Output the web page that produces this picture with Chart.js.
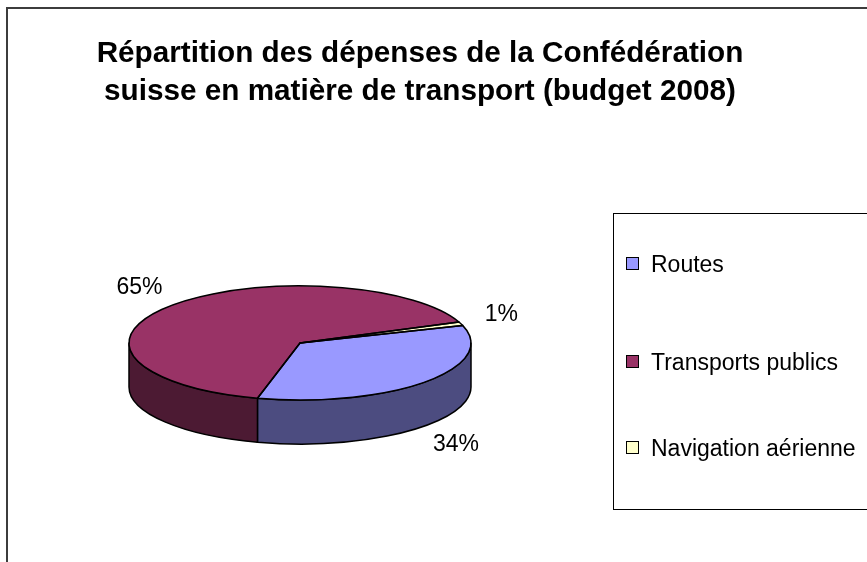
<!DOCTYPE html>
<html><head><meta charset="utf-8">
<script src="https://cdn.jsdelivr.net/npm/chart.js@4.4.0/dist/chart.umd.min.js"></script>
<style>
html,body{margin:0;padding:0;background:#fff;overflow:hidden;}
#wrap{position:relative;width:867px;height:562px;overflow:hidden;font-family:"Liberation Sans",Arial,sans-serif;color:#000;}
#frame{position:absolute;left:6px;top:7px;width:900px;height:600px;border:2px solid #3c3c3c;}
#title{position:absolute;left:0;top:33px;width:840px;text-align:center;font-weight:bold;font-size:29.7px;line-height:38px;}
#legend{position:absolute;left:613px;top:213px;width:300px;height:295px;border:1px solid #000;}
.item{position:absolute;left:12px;height:26px;line-height:26px;font-size:23px;white-space:nowrap;}
.sw{position:absolute;left:0;top:6px;width:11px;height:11px;border:1.5px solid #000;}
.lab{position:absolute;left:25px;top:0;}
canvas{position:absolute;left:0;top:0;}
</style></head>
<body>
<div id="wrap">
  <canvas id="c" width="867" height="562"></canvas>
  <div id="frame"></div>
  <div id="title">Répartition des dépenses de la Confédération<br>suisse en matière de transport (budget 2008)</div>
  <div id="legend"></div>
</div>
<script>
const categories = ['Routes', 'Transports publics', 'Navigation aérienne'];
const values = [34, 65, 1];
const topColors = ['#9999FF', '#993366', '#FFFFCC'];
const sideColors = ['#4C4C80', '#4C1A33', '#808066'];

const TILT = 57 / 171;
const DEPTH = 44;
const legendCenters = [50, 148, 234];

const pie3d = {
  id: 'pie3d',
  beforeDatasetsDraw(chart) {
    const ctx = chart.ctx;
    const arcs = chart.getDatasetMeta(0).data;
    const cx = arcs[0].x, cy = arcs[0].y, rx = arcs[0].outerRadius, ry = rx * TILT;
    ctx.save();
    ctx.lineWidth = 1.5;
    ctx.strokeStyle = '#000';
    ctx.lineJoin = 'round';
    arcs.forEach((a, i) => {
      for (let k = -1; k <= 1; k++) {
        const lo = Math.max(a.startAngle, 2 * Math.PI * k);
        const hi = Math.min(a.endAngle, 2 * Math.PI * k + Math.PI);
        if (hi > lo) {
          ctx.beginPath();
          ctx.moveTo(cx + rx * Math.cos(lo), cy + ry * Math.sin(lo));
          ctx.ellipse(cx, cy, rx, ry, 0, lo, hi, false);
          ctx.lineTo(cx + rx * Math.cos(hi), cy + DEPTH + ry * Math.sin(hi));
          ctx.ellipse(cx, cy + DEPTH, rx, ry, 0, hi, lo, true);
          ctx.closePath();
          ctx.fillStyle = sideColors[i];
          ctx.fill();
          ctx.stroke();
        }
      }
    });
    ctx.restore();
    ctx.save();
    ctx.translate(0, cy);
    ctx.scale(1, TILT);
    ctx.translate(0, -cy);
  },
  afterDatasetsDraw(chart) {
    const ctx = chart.ctx;
    ctx.restore();
    const arcs = chart.getDatasetMeta(0).data;
    const cx = arcs[0].x, cy = arcs[0].y, rx = arcs[0].outerRadius, ry = rx * TILT;
    ctx.save();
    ctx.lineWidth = 1.5;
    ctx.strokeStyle = '#000';
    ctx.lineJoin = 'round';
    arcs.forEach(a => {
      ctx.beginPath();
      ctx.moveTo(cx, cy);
      ctx.ellipse(cx, cy, rx, ry, 0, a.startAngle, a.endAngle, false);
      ctx.closePath();
      ctx.stroke();
    });
    const total = values.reduce((s, v) => s + v, 0);
    ctx.fillStyle = '#000';
    ctx.font = '23px "Liberation Sans", Arial, sans-serif';
    ctx.textAlign = 'center';
    ctx.textBaseline = 'middle';
    arcs.forEach((a, i) => {
      const mid = (a.startAngle + a.endAngle) / 2;
      const s = Math.sin(mid), c = Math.cos(mid);
      const x = cx + (rx + 43) * c;
      const y = cy + (ry + 27) * s + (s > 0 ? DEPTH : 0);
      ctx.fillText(Math.round(values[i] / total * 100) + '%', x, y);
    });
    ctx.restore();
  }
};

new Chart(document.getElementById('c'), {
  type: 'pie',
  data: {
    labels: categories,
    datasets: [{
      data: values,
      backgroundColor: topColors,
      borderWidth: 0,
      hoverBorderWidth: 0,
      hoverOffset: 0,
      clip: false
    }]
  },
  options: {
    responsive: false,
    animation: false,
    rotation: 72,
    layout: { padding: { left: 129, right: 396, top: 172, bottom: 48 } },
    plugins: {
      legend: { display: false },
      title: { display: false },
      tooltip: { enabled: false }
    },
    events: []
  },
  plugins: [pie3d]
});

const leg = document.getElementById('legend');
categories.forEach((name, i) => {
  const it = document.createElement('div');
  it.className = 'item';
  it.style.top = (legendCenters[i] - 13) + 'px';
  const sw = document.createElement('div');
  sw.className = 'sw';
  sw.style.background = topColors[i];
  const lb = document.createElement('span');
  lb.className = 'lab';
  lb.textContent = name;
  it.appendChild(sw);
  it.appendChild(lb);
  leg.appendChild(it);
});
</script>
</body></html>
